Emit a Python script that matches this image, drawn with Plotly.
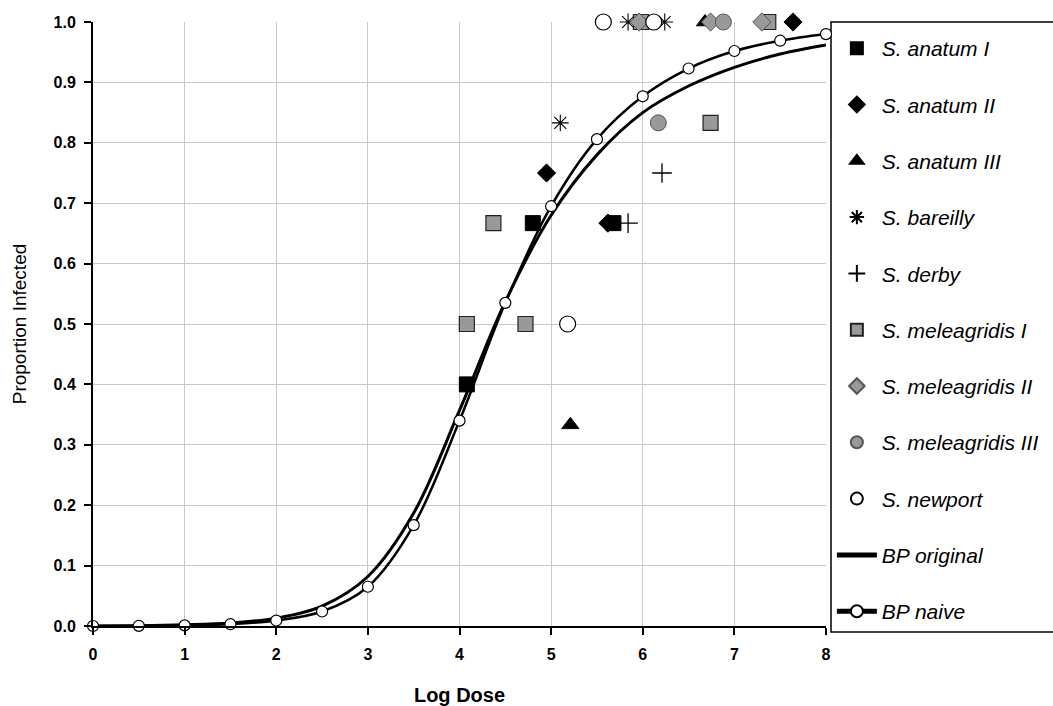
import plotly.graph_objects as go

# ---- data ----
anatum_I_x = [4.08, 4.80, 5.68]
anatum_I_y = [0.40, 0.667, 0.667]
anatum_II_x = [4.95, 5.62, 7.64]
anatum_II_y = [0.75, 0.667, 1.0]
anatum_III_x = [5.21, 6.68]
anatum_III_y = [0.333, 1.0]
bareilly_x = [5.10, 5.84, 6.24]
bareilly_y = [0.833, 1.0, 1.0]
derby_x = [5.84, 6.21]
derby_y = [0.667, 0.75]
meleagridis_I_x = [4.08, 4.72, 4.37, 6.74, 5.98, 7.37]
meleagridis_I_y = [0.5, 0.5, 0.667, 0.833, 1.0, 1.0]
meleagridis_II_x = [5.96, 6.74, 7.30]
meleagridis_II_y = [1.0, 1.0, 1.0]
meleagridis_III_x = [6.17, 6.88]
meleagridis_III_y = [0.833, 1.0]
newport_x = [5.18, 5.57, 6.12]
newport_y = [0.5, 1.0, 1.0]

bp_original_x = [0, 0.5, 1, 1.5, 2, 2.5, 3, 3.5, 4, 4.5, 5, 5.5, 6, 6.5, 7, 7.5, 8]
bp_original_y = [0.0, 0.0005, 0.002, 0.005, 0.013, 0.033, 0.082, 0.187, 0.357, 0.537,
                 0.680, 0.780, 0.850, 0.894, 0.925, 0.947, 0.962]
bp_naive_x = [0, 0.5, 1, 1.5, 2, 2.5, 3, 3.5, 4, 4.5, 5, 5.5, 6, 6.5, 7, 7.5, 8]
bp_naive_y = [0.0, 0.0003, 0.001, 0.003, 0.009, 0.024, 0.065, 0.167, 0.340, 0.535,
              0.695, 0.806, 0.877, 0.923, 0.952, 0.969, 0.980]

x_ticks = [0, 1, 2, 3, 4, 5, 6, 7, 8]
y_ticks = [0.0, 0.1, 0.2, 0.3, 0.4, 0.5, 0.6, 0.7, 0.8, 0.9, 1.0]

FONT = "Liberation Sans, Arial, sans-serif"
GRAY = "#999999"

fig = go.Figure()

# curves (drawn first so markers sit on top)
fig.add_trace(go.Scatter(x=bp_original_x, y=bp_original_y, name="BP original",
                         mode="lines", line=dict(color="black", width=3, shape="spline"),
                         cliponaxis=False, legendgroup="o", legendrank=10))
fig.add_trace(go.Scatter(x=bp_naive_x, y=bp_naive_y, name="BP naive",
                         mode="lines+markers", line=dict(color="black", width=2.5, shape="spline"),
                         marker=dict(symbol="circle", size=11, color="white",
                                     line=dict(color="black", width=1.2)),
                         cliponaxis=False, legendgroup="n", legendrank=11))

series = [
    ("S. anatum I", anatum_I_x, anatum_I_y, dict(symbol="square", size=15, color="black",
                                                 line=dict(color="black", width=1))),
    ("S. anatum II", anatum_II_x, anatum_II_y, dict(symbol="diamond", size=14, color="black",
                                                    line=dict(color="black", width=1))),
    ("S. anatum III", anatum_III_x, anatum_III_y, dict(symbol="triangle-up", size=15, color="black",
                                                       line=dict(color="black", width=1))),
    ("S. bareilly", bareilly_x, bareilly_y, dict(symbol="asterisk-open", size=14, color="black",
                                                 line=dict(color="black", width=1.1))),
    ("S. derby", derby_x, derby_y, dict(symbol="cross-thin-open", size=14, color="black",
                                        line=dict(color="black", width=1.3))),
    ("S. meleagridis I", meleagridis_I_x, meleagridis_I_y, dict(symbol="square", size=15, color=GRAY,
                                                                line=dict(color="#222222", width=1.2))),
    ("S. meleagridis II", meleagridis_II_x, meleagridis_II_y, dict(symbol="diamond", size=14, color=GRAY,
                                                                   line=dict(color="#555555", width=1))),
    ("S. meleagridis III", meleagridis_III_x, meleagridis_III_y, dict(symbol="circle", size=16, color=GRAY,
                                                                      line=dict(color="#555555", width=1))),
    ("S. newport", newport_x, newport_y, dict(symbol="circle", size=16, color="white",
                                              line=dict(color="black", width=1.2))),
]
for i, (name, xs, ys, mk) in enumerate(series):
    fig.add_trace(go.Scatter(x=xs, y=ys, name=name, mode="markers", marker=mk,
                             cliponaxis=False, legendgroup=name, legendrank=i + 1))

fig.update_layout(
    width=1053, height=706,
    margin=dict(l=93, r=227, t=22, b=80, autoexpand=False),
    paper_bgcolor="white", plot_bgcolor="white",
    font=dict(family=FONT, color="black"),
    showlegend=True,
    legend=dict(x=1.008, xanchor="left", y=0.99, yanchor="top",
                bgcolor="rgba(0,0,0,0)", borderwidth=0,
                traceorder="grouped", tracegroupgap=26,
                font=dict(family=FONT, size=21, style="italic"),
                itemwidth=40, itemsizing="constant"),
    shapes=[dict(type="rect", xref="paper", yref="paper",
                 x0=(831 - 93) / 733, x1=(1060 - 93) / 733,
                 y0=(626 - 632) / 604, y1=1.0,
                 line=dict(color="black", width=1.5), fillcolor="white", layer="below")],
)

fig.update_xaxes(range=[0, 8], tickvals=x_ticks, ticktext=[str(t) for t in x_ticks],
                 showgrid=True, gridcolor="#c8c8c8", gridwidth=1,
                 showline=True, linecolor="black", linewidth=2,
                 ticks="outside", ticklen=7, tickwidth=2, tickcolor="black",
                 ticklabelstandoff=6,
                 tickfont=dict(family=FONT, size=16, weight="bold"),
                 zeroline=False, automargin=False,
                 title=dict(text="<b>Log Dose</b>", font=dict(family=FONT, size=20), standoff=26))
fig.update_yaxes(range=[0, 1], tickvals=y_ticks, ticktext=[f"{t:.1f}" for t in y_ticks],
                 showgrid=True, gridcolor="#c8c8c8", gridwidth=1,
                 showline=True, linecolor="black", linewidth=2,
                 ticks="outside", ticklen=7, tickwidth=2, tickcolor="black",
                 ticklabelstandoff=5,
                 tickfont=dict(family=FONT, size=16, weight="bold"),
                 zeroline=False, automargin=False,
                 title=dict(text="Proportion Infected", font=dict(family=FONT, size=19), standoff=22))

fig.write_html("out.html")
